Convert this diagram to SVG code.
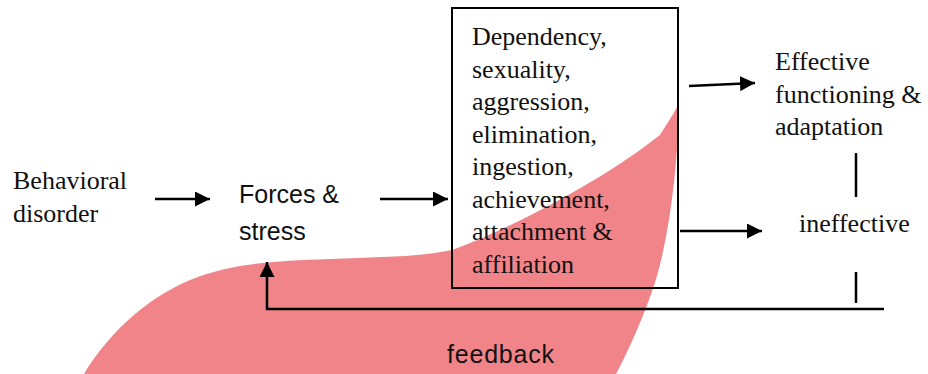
<svg xmlns="http://www.w3.org/2000/svg" width="928" height="374" viewBox="0 0 928 374">
<defs>
<style>
.serif{font-family:"Liberation Serif","Times New Roman",serif;font-size:26px;fill:#111}
.sans{font-family:"Liberation Sans",Arial,sans-serif;font-size:25px;fill:#111}
.ln{stroke:#000;stroke-width:2.5;fill:none}
</style>
<marker id="ah" markerWidth="6" markerHeight="6" refX="6" refY="3" orient="auto" markerUnits="strokeWidth">
<path d="M0,0 L6,3 L0,6 Z" fill="#000"/>
</marker>
</defs>
<rect width="928" height="374" fill="#fff"/>
<path id="blob" d="M 84 374 C 104 340, 142 300, 190 280 C 230 264, 270 261, 330 259 C 380 257, 420 257, 452 250 C 520 225, 610 175, 660 135 C 668 122, 675 112, 679 103 C 678 170, 668 250, 650 297 C 640 325, 626 355, 616 374 Z" fill="#F08489"/>
<g id="n-behavioral">
<text class="serif" x="13" y="189">Behavioral</text>
<text class="serif" x="13" y="222">disorder</text>
</g>
<g id="n-forces">
<text class="sans" x="239" y="203">Forces &amp;</text>
<text class="sans" x="239" y="240">stress</text>
</g>
<g id="n-box">
<rect x="452" y="8" width="226" height="280" fill="none" stroke="#000" stroke-width="2"/>
<text class="serif" x="472" y="45">Dependency,</text>
<text class="serif" x="472" y="78">sexuality,</text>
<text class="serif" x="472" y="110">aggression,</text>
<text class="serif" x="472" y="143">elimination,</text>
<text class="serif" x="472" y="175">ingestion,</text>
<text class="serif" x="472" y="208">achievement,</text>
<text class="serif" x="472" y="240">attachment &amp;</text>
<text class="serif" x="472" y="273">affiliation</text>
</g>
<g id="n-effective">
<text class="serif" x="775" y="70">Effective</text>
<text class="serif" x="775" y="103">functioning &amp;</text>
<text class="serif" x="775" y="135">adaptation</text>
</g>
<g id="n-ineffective">
<text class="serif" x="799" y="232">ineffective</text>
</g>
<g id="n-feedback">
<text class="sans" x="447" y="363" textLength="107">feedback</text>
</g>
<g id="connectors">
<line class="ln" x1="155" y1="199" x2="210" y2="199" marker-end="url(#ah)"/>
<line class="ln" x1="380" y1="199" x2="448" y2="199" marker-end="url(#ah)"/>
<line class="ln" x1="689" y1="86" x2="755" y2="83" marker-end="url(#ah)"/>
<line class="ln" x1="680" y1="231" x2="762" y2="231" marker-end="url(#ah)"/>
<line class="ln" x1="856" y1="153" x2="856" y2="197" stroke-width="2"/>
<line class="ln" x1="856" y1="272" x2="856" y2="303" stroke-width="2"/>
<polyline class="ln" points="884,309 267,309 267,262" marker-end="url(#ah)"/>
</g>
</svg>
